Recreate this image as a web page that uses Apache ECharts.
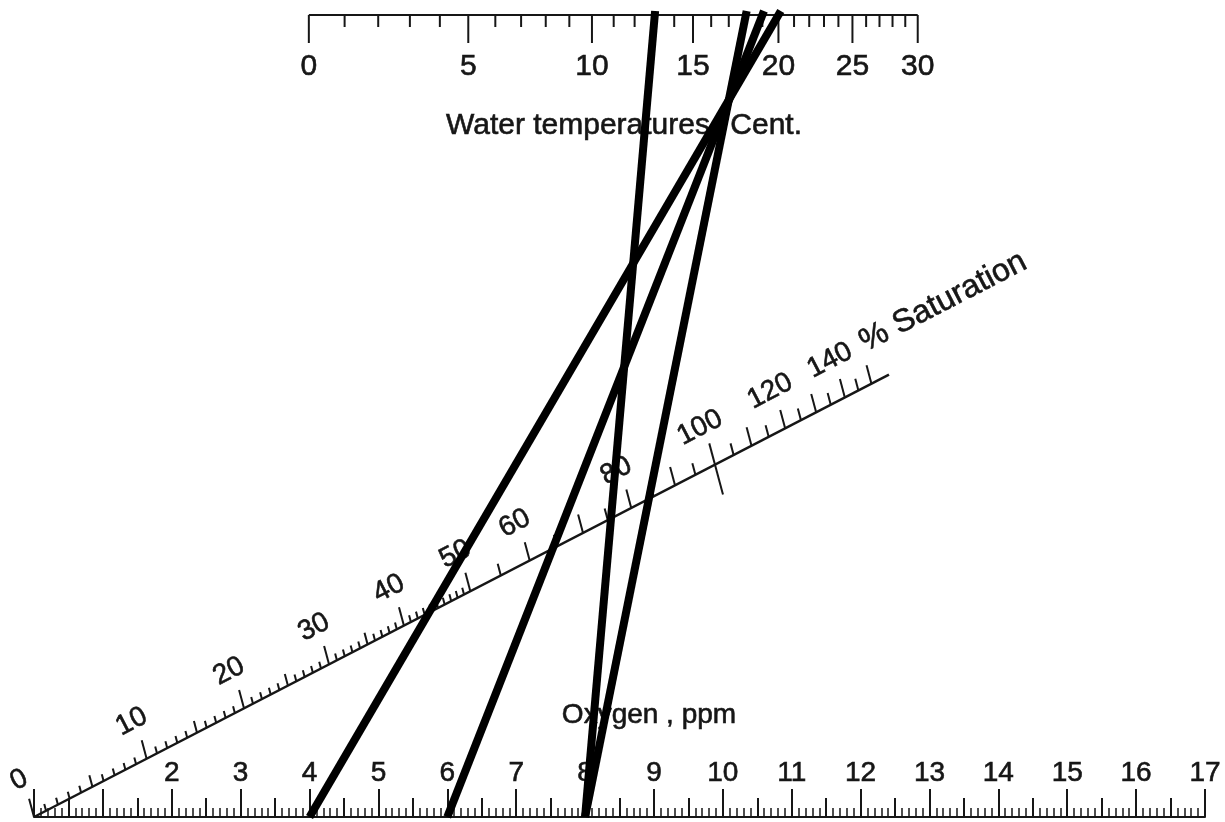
<!DOCTYPE html>
<html>
<head>
<meta charset="utf-8">
<script src="https://cdn.jsdelivr.net/npm/echarts@6/dist/echarts.min.js"></script>
<style>
html,body{margin:0;padding:0;background:#fff;}
#chart{width:1225px;height:822px;}
</style>
</head>
<body>
<div id="chart"></div>
<script>
// ---------------- data ----------------
// Oxygen scale (bottom, ppm)
const oxygenLabels = [2, 3, 4, 5, 6, 7, 8, 9, 10, 11, 12, 13, 14, 15, 16, 17];
// Water temperature scale (top, °C)
const tempTicks = [0, 1, 2, 3, 4, 5, 6, 7, 8, 9, 10, 11, 12, 13, 14, 15, 16, 17, 18, 19, 20, 21, 22, 23, 24, 25, 26, 27, 28, 29, 30];
const tempLabels = [0, 5, 10, 15, 20, 25, 30];
// % Saturation scale (diagonal)
const satTicksFine = [0, 1, 2, 3, 4, 5, 6, 7, 8, 9, 10, 11, 12, 13, 14, 15, 16, 17, 18, 19, 20, 21, 22, 23, 24, 25, 26, 27, 28, 29, 30, 31, 32, 33, 34, 35, 36, 37, 38, 39, 40, 41, 42, 43, 44, 45, 46, 47, 48, 49];
const satTicksCoarse = [50, 55, 60, 65, 70, 75, 80, 85, 90, 95, 100, 105, 110, 115, 120, 125, 130, 135, 140, 145, 150];
const satLabels = [0, 10, 20, 30, 40, 50, 60, 80, 100, 120, 140];
const satScaleEnd = 157;
// Example readings drawn across the nomogram: oxygen (ppm) -> temperature (°C)
const lineOxygen = [4, 6, 8, 8];
const lineTemperature = [20, 19, 13, 18];
// Texts
const oxygenTitle = 'Oxygen , ppm';
const tempTitle = 'Water temperatures °Cent.';
const satTitle = '% Saturation';

// ---------------- nomogram scale placement (in oxygen-axis units) ----------------
const TEMP_U0 = 3.99, TEMP_K = 8.046, TEMP_C = 15;
function tempX(T) { return TEMP_U0 + TEMP_K * Math.log((T + TEMP_C) / TEMP_C); }
const SAT_A = 22.5, SAT_B = 1.276;
function satPoint(S) { const s = S / 100; const t = s / (s + SAT_B); return [SAT_A * t, t]; }

const INK = '#161616';
const FAMILY = '"Liberation Sans", Arial, Helvetica, sans-serif';
const TICK_DX = -Math.sin(15 * Math.PI / 180), TICK_DY = -Math.cos(15 * Math.PI / 180);

function inkText(text, size, align) {
  return { text: text, fill: INK, stroke: INK, lineWidth: 0.6, font: size + 'px ' + FAMILY, align: align || 'center', verticalAlign: 'middle' };
}

function renderTempTick(params, api) {
  const T = api.value(0);
  const p = api.coord([tempX(T), 1]);
  const major = tempLabels.indexOf(T) >= 0;
  const kids = [{
    type: 'line',
    shape: { x1: p[0], y1: p[1], x2: p[0], y2: p[1] + (major ? 28 : 12) },
    style: { stroke: INK, lineWidth: 2 }
  }];
  if (major) {
    kids.push({ type: 'text', x: p[0], y: p[1] + 52, style: inkText(String(T), 30) });
  }
  return { type: 'group', children: kids };
}

function renderSatTick(params, api) {
  const S = api.value(0);
  const p = api.coord(satPoint(S));
  const o = api.coord(satPoint(0)), e = api.coord(satPoint(150));
  const ang = Math.atan2(o[1] - e[1], e[0] - o[0]);
  const len = S % 10 === 0 ? 19 : (S % 5 === 0 ? 12 : 7);
  let x1 = p[0], y1 = p[1], x2 = p[0] + TICK_DX * len, y2 = p[1] + TICK_DY * len;
  if (S === 100) {
    x1 = p[0] - TICK_DX * 31; y1 = p[1] - TICK_DY * 31;
    x2 = p[0] + TICK_DX * 22; y2 = p[1] + TICK_DY * 22;
  }
  const kids = [{ type: 'line', shape: { x1, y1, x2, y2 }, style: { stroke: INK, lineWidth: 2 } }];
  if (satLabels.indexOf(S) >= 0) {
    kids.push({ type: 'text', x: p[0] - 15, y: p[1] - 37, rotation: ang, style: inkText(String(S), 28) });
  }
  if (S === satTicksCoarse[satTicksCoarse.length - 1]) {
    kids.push({
      type: 'text', x: p[0] - 15 + 6 * Math.cos(ang), y: p[1] - 37 - 6 * Math.sin(ang), rotation: ang,
      style: inkText(satTitle, 32, 'left')
    });
  }
  return { type: 'group', children: kids };
}

const LINE_EXT = 1.005;
const readingSeries = lineOxygen.map((o, i) => {
  const top = tempX(lineTemperature[i]);
  return {
    type: 'line', name: 'reading ' + (i + 1),
    data: [[o, 0], [o + LINE_EXT * (top - o), LINE_EXT]],
    symbol: 'none', clip: false, silent: true, z: 10,
    lineStyle: { color: '#000', width: 8, cap: 'butt' }
  };
});

const chart = echarts.init(document.getElementById('chart'), null, { renderer: 'canvas' });
chart.setOption({
  animation: false,
  backgroundColor: '#ffffff',
  grid: { left: 34, right: 20, top: 15, bottom: 5, outerBoundsMode: 'none', containLabel: false },
  xAxis: [
    {
      type: 'value', min: 0, max: 17, interval: 1, position: 'bottom',
      axisLine: { show: true, onZero: false, lineStyle: { color: INK, width: 2 } },
      axisTick: { show: true, inside: true, length: 28, lineStyle: { color: INK, width: 2 } },
      minorTick: { show: true, splitNumber: 10, length: 9, lineStyle: { color: INK, width: 1.5 } },
      splitLine: { show: false }, minorSplitLine: { show: false },
      axisLabel: {
        show: true, inside: true, margin: 30, color: INK, fontSize: 28, fontFamily: FAMILY,
        textBorderColor: INK, textBorderWidth: 0.6,
        formatter: v => (oxygenLabels.indexOf(v) >= 0 ? String(v) : '')
      }
    },
    {
      type: 'value', min: 0, max: 17, interval: 0.5, position: 'bottom',
      axisLine: { show: false },
      axisTick: { show: true, inside: true, length: 19, lineStyle: { color: INK, width: 2 } },
      axisLabel: { show: false }, splitLine: { show: false }
    }
  ],
  yAxis: { type: 'value', min: 0, max: 1, show: false },
  graphic: [
    { type: 'text', x: 649, y: 715, style: inkText(oxygenTitle, 28) },
    { type: 'text', x: 624, y: 126, style: inkText(tempTitle, 30) }
  ],
  series: [
    {
      type: 'line', name: 'saturation scale', data: [satPoint(0), satPoint(satScaleEnd)],
      symbol: 'none', silent: true, lineStyle: { color: INK, width: 2.5 }
    },
    {
      type: 'line', name: 'temperature scale', data: [[tempX(tempTicks[0]), 1], [tempX(tempTicks[tempTicks.length - 1]), 1]],
      symbol: 'none', silent: true, clip: false, lineStyle: { color: INK, width: 2 }
    },
    {
      type: 'custom', name: 'temperature ticks', coordinateSystem: 'cartesian2d', clip: false, silent: true,
      data: tempTicks.map(v => [v]), renderItem: renderTempTick
    },
    {
      type: 'custom', name: 'saturation ticks', coordinateSystem: 'cartesian2d', clip: false, silent: true,
      data: satTicksFine.concat(satTicksCoarse).map(v => [v]), renderItem: renderSatTick
    }
  ].concat(readingSeries)
});
</script>
</body>
</html>
